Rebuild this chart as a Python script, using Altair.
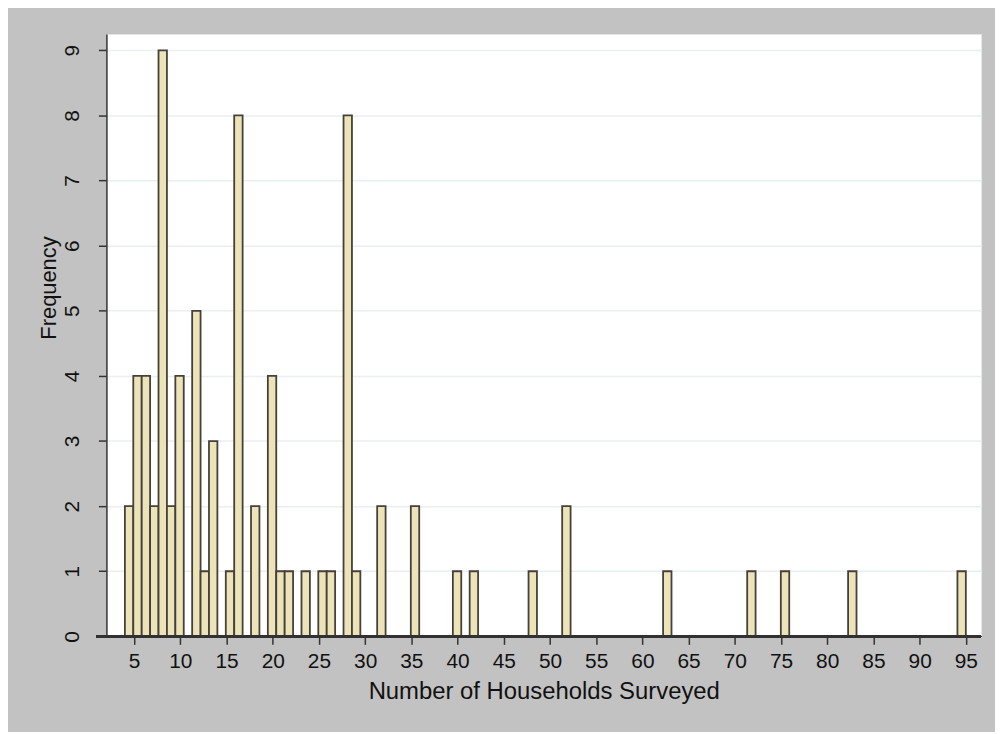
import altair as alt
import pandas as pd

# Histogram: 100 bins from 4 to 95 (bin width 0.91); only non-empty bins listed
bin_min = 4.0
bin_width = 0.91
bin_index = [0, 1, 2, 3, 4, 5, 6, 8, 9, 10, 12, 13, 15, 17, 18, 19, 21, 23, 24,
             26, 27, 30, 34, 39, 41, 48, 52, 64, 74, 78, 86, 99]
frequency = [2, 4, 4, 2, 9, 2, 4, 5, 1, 3, 1, 8, 2, 4, 1, 1, 1, 1, 1,
             8, 1, 2, 2, 1, 1, 1, 2, 1, 1, 1, 1, 1]
x_ticks = list(range(5, 100, 5))
y_ticks = list(range(0, 10))

df = pd.DataFrame({"k": bin_index, "freq": frequency})
df["start"] = bin_min + df["k"] * bin_width
df["end"] = df["start"] + bin_width

W, H = 880, 606
FONT = "Liberation Sans"

bars = alt.Chart(df).mark_bar(
    fill="#ece3b8", stroke="#45413a", strokeWidth=1.8
).encode(
    x=alt.X("start:Q",
            scale=alt.Scale(domain=[2, 96.65], nice=False, zero=False),
            axis=alt.Axis(values=x_ticks, title="Number of Households Surveyed",
                          domain=False, grid=False, tickSize=8, tickWidth=1.5,
                          tickColor="#333333", labelFontSize=21, labelPadding=6,
                          labelColor="#111111", labelFont=FONT,
                          titleFont=FONT, titleFontSize=24, titleFontWeight="normal",
                          titleColor="#111111", titlePadding=9)),
    x2="end:Q",
    y=alt.Y("freq:Q",
            scale=alt.Scale(domain=[0, 9.25], nice=False),
            axis=alt.Axis(values=y_ticks, title="Frequency",
                          domain=True, domainColor="#333333", domainWidth=1.5,
                          grid=True, gridColor="#e9eff2", gridWidth=1.5,
                          tickSize=8, tickWidth=1.5, tickColor="#333333",
                          labelAngle=270, labelAlign="center", labelBaseline="bottom",
                          labelFontSize=21, labelPadding=16, labelColor="#111111",
                          labelFont=FONT,
                          titleFont=FONT, titleFontSize=22, titleFontWeight="normal",
                          titleColor="#111111", titleAngle=270,
                          titleAlign="center", titleBaseline="middle",
                          titleX=-58, titleY=255)),
    y2=alt.datum(0),
)

xline = alt.Chart(df).mark_rule(color="#333333", strokeWidth=1.5).encode(
    x=alt.value(-10), x2=alt.value(W), y=alt.value(H)
)

chart = alt.layer(bars, xline).properties(
    width=W, height=H,
    background="#c2c2c2",
    padding={"left": 99, "top": 24, "right": 14, "bottom": 94},
    autosize=alt.AutoSizeParams(type="none"),
).configure_view(fill="white", stroke="#e6e6e6", strokeWidth=1)

chart.save("out.html", embed_options={"renderer": "svg", "actions": False})
